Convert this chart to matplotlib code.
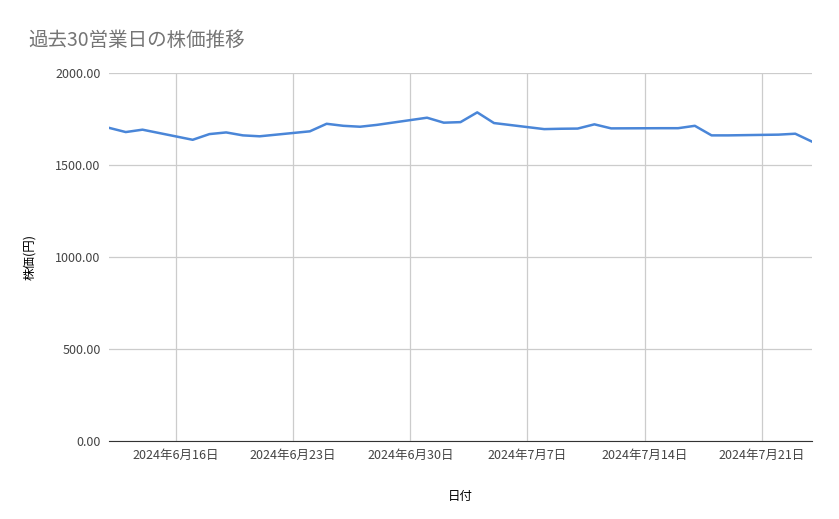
import matplotlib
matplotlib.use("Agg")
import matplotlib.pyplot as plt
import numpy as np

plt.rcParams["font.family"] = ["Noto Sans CJK JP", "DejaVu Sans"]

dates = np.array([
    "2024-06-12", "2024-06-13", "2024-06-14",
    "2024-06-17", "2024-06-18", "2024-06-19", "2024-06-20", "2024-06-21",
    "2024-06-24", "2024-06-25", "2024-06-26", "2024-06-27", "2024-06-28",
    "2024-07-01", "2024-07-02", "2024-07-03", "2024-07-04", "2024-07-05",
    "2024-07-08", "2024-07-09", "2024-07-10", "2024-07-11", "2024-07-12",
    "2024-07-15", "2024-07-16", "2024-07-17", "2024-07-18", "2024-07-19",
    "2024-07-22", "2024-07-23", "2024-07-24",
], dtype="datetime64[D]")
prices = [
    1702, 1679, 1692,
    1637, 1668, 1677, 1661, 1656,
    1683, 1724, 1713, 1708, 1718,
    1757, 1730, 1733, 1786, 1728,
    1695, 1697, 1698, 1721, 1699,
    1700, 1700, 1713, 1661, 1661,
    1665, 1670, 1627,
]
tick_dates = np.array(["2024-06-16", "2024-06-23", "2024-06-30",
                       "2024-07-07", "2024-07-14", "2024-07-21"], dtype="datetime64[D]")

fig = plt.figure(figsize=(8.39, 5.19), dpi=100)
ax = fig.add_axes([109 / 839, 1 - 441 / 519, (812 - 109) / 839, (441 - 73) / 519])

ax.plot(dates, prices, color="#4a86d8", linewidth=1.8)

ax.set_ylim(0, 2000)
ax.set_yticks([0, 500, 1000, 1500, 2000])
ax.set_yticklabels([f"{v:.2f}" for v in [0, 500, 1000, 1500, 2000]], fontsize=9, color="#444444")
ax.set_xlim(dates[0], dates[-1])
ax.set_xticks(tick_dates)
ax.set_xticklabels([f"{d.astype(object).year}年{d.astype(object).month}月{d.astype(object).day}日"
                    for d in tick_dates], fontsize=9, color="#444444")
ax.tick_params(length=0, pad=6)
ax.grid(True, color="#cccccc", linewidth=0.9)
ax.set_axisbelow(True)
for s in ("top", "right", "left"):
    ax.spines[s].set_visible(False)
ax.spines["bottom"].set_color("#333333")

ax.set_xlabel("日付", fontsize=9, labelpad=20)
ax.set_ylabel("株価(円)", fontsize=9, labelpad=14)
fig.text(28 / 839, 1 - 40 / 519, "過去30営業日の株価推移", fontsize=14, color="#757575", va="center")

fig.savefig("out.png", dpi=100, facecolor="white")
